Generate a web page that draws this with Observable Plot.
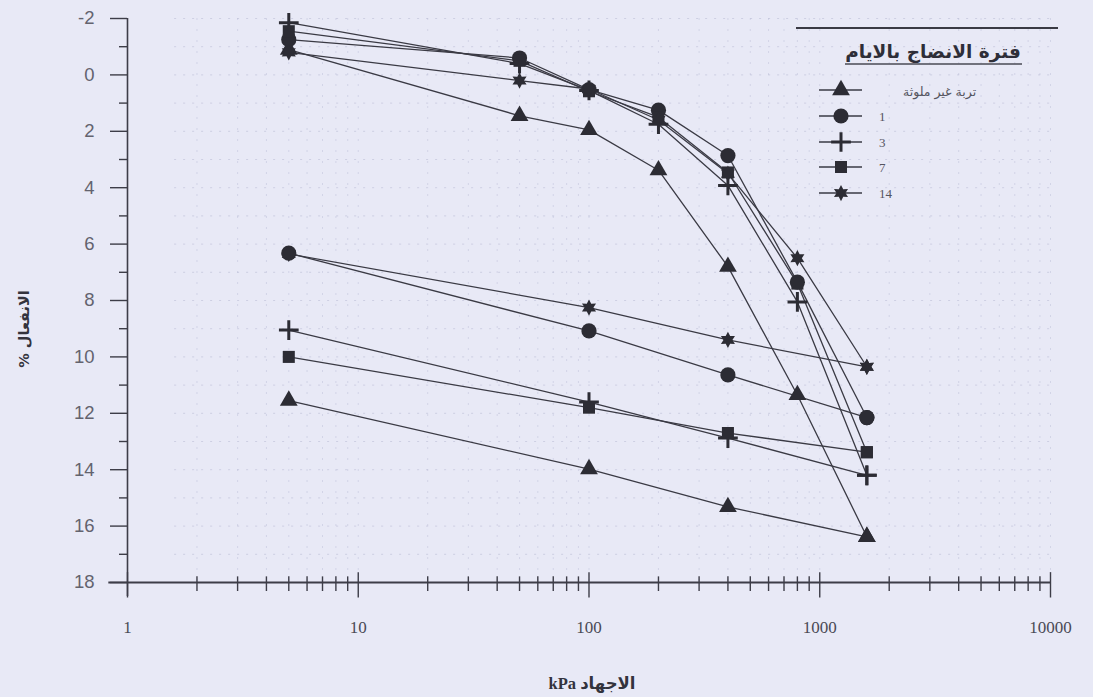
<!DOCTYPE html>
<html>
<head>
<meta charset="utf-8">
<script src="https://cdn.jsdelivr.net/npm/d3@7"></script>
<script src="https://cdn.jsdelivr.net/npm/@observablehq/plot@0.6"></script>
<style>
  html, body { margin: 0; padding: 0; background: #e8e9f6; }
  #wrap { position: relative; width: 1093px; height: 697px; overflow: hidden; background: #e8e9f6; }
  #wrap svg.overlay { position: absolute; left: 0; top: 0; pointer-events: none; }
</style>
</head>
<body>
<div id="wrap"></div>
<script>
// ---------- data ----------
const legendTitle = "فترة الانضاج بالايام";
const seriesNames = ["تربة غير ملوثة", "1", "3", "7", "14"];
const xAxisTitle = "kPa الاجهاد";
const yAxisTitle = "% الانفعال";

const stressLoading = [5, 50, 100, 200, 400, 800, 1600];
const stressUnloading = [1600, 400, 100, 5];

// strain % on loading (one value per stressLoading entry)
const loadUncontaminated = [-0.9, 1.45, 1.95, 3.38, 6.8, 11.35, 16.38];
const loadDay1 = [-1.25, -0.6, 0.52, 1.25, 2.86, 7.35, 12.15];
const loadDay3 = [-1.85, -0.4, 0.55, 1.75, 3.92, 8.05, 14.2];
const loadDay7 = [-1.55, -0.5, 0.58, 1.5, 3.46, 7.4, 13.38];
const loadDay14 = [-0.8, 0.2, 0.5, 1.6, 3.5, 6.5, 10.35];

// strain % on unloading (one value per stressUnloading entry)
const unloadUncontaminated = [16.38, 15.32, 13.98, 11.55];
const unloadDay1 = [12.15, 10.64, 9.08, 6.32];
const unloadDay3 = [14.2, 12.88, 11.6, 9.05];
const unloadDay7 = [13.38, 12.7, 11.8, 10.0];
const unloadDay14 = [10.35, 9.4, 8.25, 6.35];

const xTicksMajor = [1, 10, 100, 1000, 10000];
const xTickLabels = ["1", "10", "100", "1000", "10000"];
const xTicksMinor = [2,3,4,5,6,7,8,9, 20,30,40,50,60,70,80,90, 200,300,400,500,600,700,800,900, 2000,3000,4000,5000,6000,7000,8000,9000];
const yTicksMajor = [-2, 0, 2, 4, 6, 8, 10, 12, 14, 16, 18];
const yTickLabels = ["-2", "0", "2", "4", "6", "8", "10", "12", "14", "16", "18"];
const yTicksMinor = [-1, 1, 3, 5, 7, 9, 11, 13, 15, 17];

// ---------- build table ----------
const seriesLoad = [loadUncontaminated, loadDay1, loadDay3, loadDay7, loadDay14];
const seriesUnload = [unloadUncontaminated, unloadDay1, unloadDay3, unloadDay7, unloadDay14];
const rows = [];
seriesNames.forEach((name, s) => {
  stressLoading.forEach((x, i) => rows.push({series: name, seg: name + "-L", x, y: seriesLoad[s][i]}));
  stressUnloading.forEach((x, i) => rows.push({series: name, seg: name + "-U", x, y: seriesUnload[s][i]}));
});

// six-pointed star symbol
const star6 = {
  draw(ctx, size) {
    const R = Math.sqrt(size / Math.PI) * 1.25;
    const r = R * 0.55;
    for (let k = 0; k < 12; k++) {
      const a = -Math.PI / 2 + k * Math.PI / 6;
      const rr = k % 2 === 0 ? R : r;
      const px = rr * Math.cos(a), py = rr * Math.sin(a);
      if (k === 0) ctx.moveTo(px, py); else ctx.lineTo(px, py);
    }
    ctx.closePath();
  }
};

const ink = "#2c2c34";
const lineInk = "#3a3a44";
const markerSpec = [
  {symbol: "triangle", d3sym: d3.symbolTriangle, r: 6.6, fill: ink, stroke: "none", sw: 0},
  {symbol: "circle", d3sym: d3.symbolCircle, r: 7.6, fill: ink, stroke: "none", sw: 0},
  {symbol: "plus", d3sym: d3.symbolPlus, r: 6.4, fill: "none", stroke: ink, sw: 3},
  {symbol: "square", d3sym: d3.symbolSquare, r: 6.8, fill: ink, stroke: "none", sw: 0},
  {symbol: star6, d3sym: star6, r: 6.5, fill: ink, stroke: "none", sw: 0}
];

const dotMarks = seriesNames.map((name, s) => {
  const m = markerSpec[s];
  return Plot.dot(rows.filter(d => d.series === name), {
    x: "x", y: "y", symbol: m.symbol, r: m.r,
    fill: m.fill, stroke: m.stroke, strokeWidth: m.sw
  });
});

const fontSans = "'Liberation Sans', Arial, sans-serif";
const fontSerif = "'Liberation Serif', 'Times New Roman', serif";
const fontArabic = "'DejaVu Sans', 'Noto Sans', sans-serif";

const chart = Plot.plot({
  width: 1093,
  height: 697,
  marginLeft: 127,
  marginRight: 43,
  marginTop: 18,
  marginBottom: 115,
  style: {background: "transparent", color: "#555"},
  x: {type: "log", domain: [1, 10000], label: null},
  y: {domain: [-2, 18], reverse: true, label: null},
  marks: [
    // faint scanned-paper grid
    Plot.ruleY(yTicksMajor.concat(yTicksMinor), {x1: 1.6, x2: 10000, stroke: "#b8bad4", strokeDasharray: "2,7", strokeOpacity: 0.55}),
    Plot.ruleX(xTicksMinor.concat(xTicksMajor.slice(1)), {y1: -2, y2: 18, stroke: "#b8bad4", strokeDasharray: "2,9", strokeOpacity: 0.45}),
    // axis lines
    Plot.ruleX([1], {y1: -2, y2: 18.5, stroke: "#3d3d48", strokeWidth: 1.6}),
    Plot.ruleY([18], {x1: 0.83, x2: 10000, stroke: "#3d3d48", strokeWidth: 2.2}),
    // x ticks crossing the axis
    Plot.ruleX(xTicksMinor, {y1: 17.8, y2: 18.32, stroke: "#3d3d48", strokeWidth: 1.4}),
    Plot.ruleX(xTicksMajor, {y1: 17.65, y2: 18.55, stroke: "#3d3d48", strokeWidth: 1.4}),
    // y axis ticks & labels
    Plot.axisY(yTicksMajor, {tickSize: 17, tickPadding: 16, stroke: "#3d3d48", strokeWidth: 1.4,
      tickFormat: d => yTickLabels[yTicksMajor.indexOf(d)], fontSize: 18.5, fontFamily: fontSans, color: "#63636e", label: null}),
    Plot.axisY(yTicksMinor, {tickSize: 8, tickFormat: () => "", stroke: "#3d3d48", strokeWidth: 1.4, label: null}),
    // x tick labels
    Plot.axisX(xTicksMajor, {tickSize: 0, tickPadding: 38, tickFormat: d => xTickLabels[xTicksMajor.indexOf(d)],
      fontSize: 17, fontFamily: fontSerif, color: "#4a4a55", label: null}),
    // data lines
    Plot.line(rows, {x: "x", y: "y", z: "seg", stroke: lineInk, strokeWidth: 1.3}),
    ...dotMarks
  ]
});

const wrap = document.getElementById("wrap");
wrap.appendChild(chart);

// ---------- overlay: legend and axis titles ----------
const ov = d3.select(wrap).append("svg").attr("class", "overlay")
  .attr("width", 1093).attr("height", 697);

// legend box top border
ov.append("line").attr("x1", 796).attr("x2", 1058).attr("y1", 28).attr("y2", 28)
  .attr("stroke", "#3a3a44").attr("stroke-width", 2.2);

ov.append("text").attr("x", 933).attr("y", 58).attr("text-anchor", "middle")
  .attr("font-family", fontArabic).attr("font-weight", "bold").attr("font-size", 18.5)
  .attr("fill", "#2e2e38").text(legendTitle);
ov.append("line").attr("x1", 845).attr("x2", 1022).attr("y1", 64).attr("y2", 64)
  .attr("stroke", "#4a4a55").attr("stroke-width", 1.3);

const legendY = [90, 116, 142, 167, 193];
seriesNames.forEach((name, i) => {
  const m = markerSpec[i];
  const g = ov.append("g");
  g.append("line").attr("x1", 819).attr("x2", 862).attr("y1", legendY[i]).attr("y2", legendY[i])
    .attr("stroke", lineInk).attr("stroke-width", 1.6);
  g.append("path")
    .attr("d", d3.symbol(m.d3sym, Math.PI * m.r * m.r)())
    .attr("transform", `translate(841,${legendY[i]})`)
    .attr("fill", m.fill).attr("stroke", m.stroke).attr("stroke-width", m.sw);
  const isArabic = i === 0;
  g.append("text")
    .attr("x", isArabic ? 903 : 879).attr("y", legendY[i] + (isArabic ? 6 : 5))
    .attr("font-family", isArabic ? fontArabic : fontSerif)
    .attr("font-size", isArabic ? 12.5 : 13)
    .attr("fill", "#55555f").text(name);
});

// axis titles
ov.append("text").attr("x", 592).attr("y", 689).attr("text-anchor", "middle")
  .attr("font-family", "'Liberation Serif', 'DejaVu Sans', serif").attr("font-weight", "bold")
  .attr("font-size", 16.5).attr("fill", "#33333d").text(xAxisTitle);
ov.append("text").attr("transform", "translate(29,329) rotate(-90)").attr("text-anchor", "middle")
  .attr("font-family", fontArabic).attr("font-weight", "bold")
  .attr("font-size", 14.5).attr("fill", "#33333d").text(yAxisTitle);
</script>
</body>
</html>
